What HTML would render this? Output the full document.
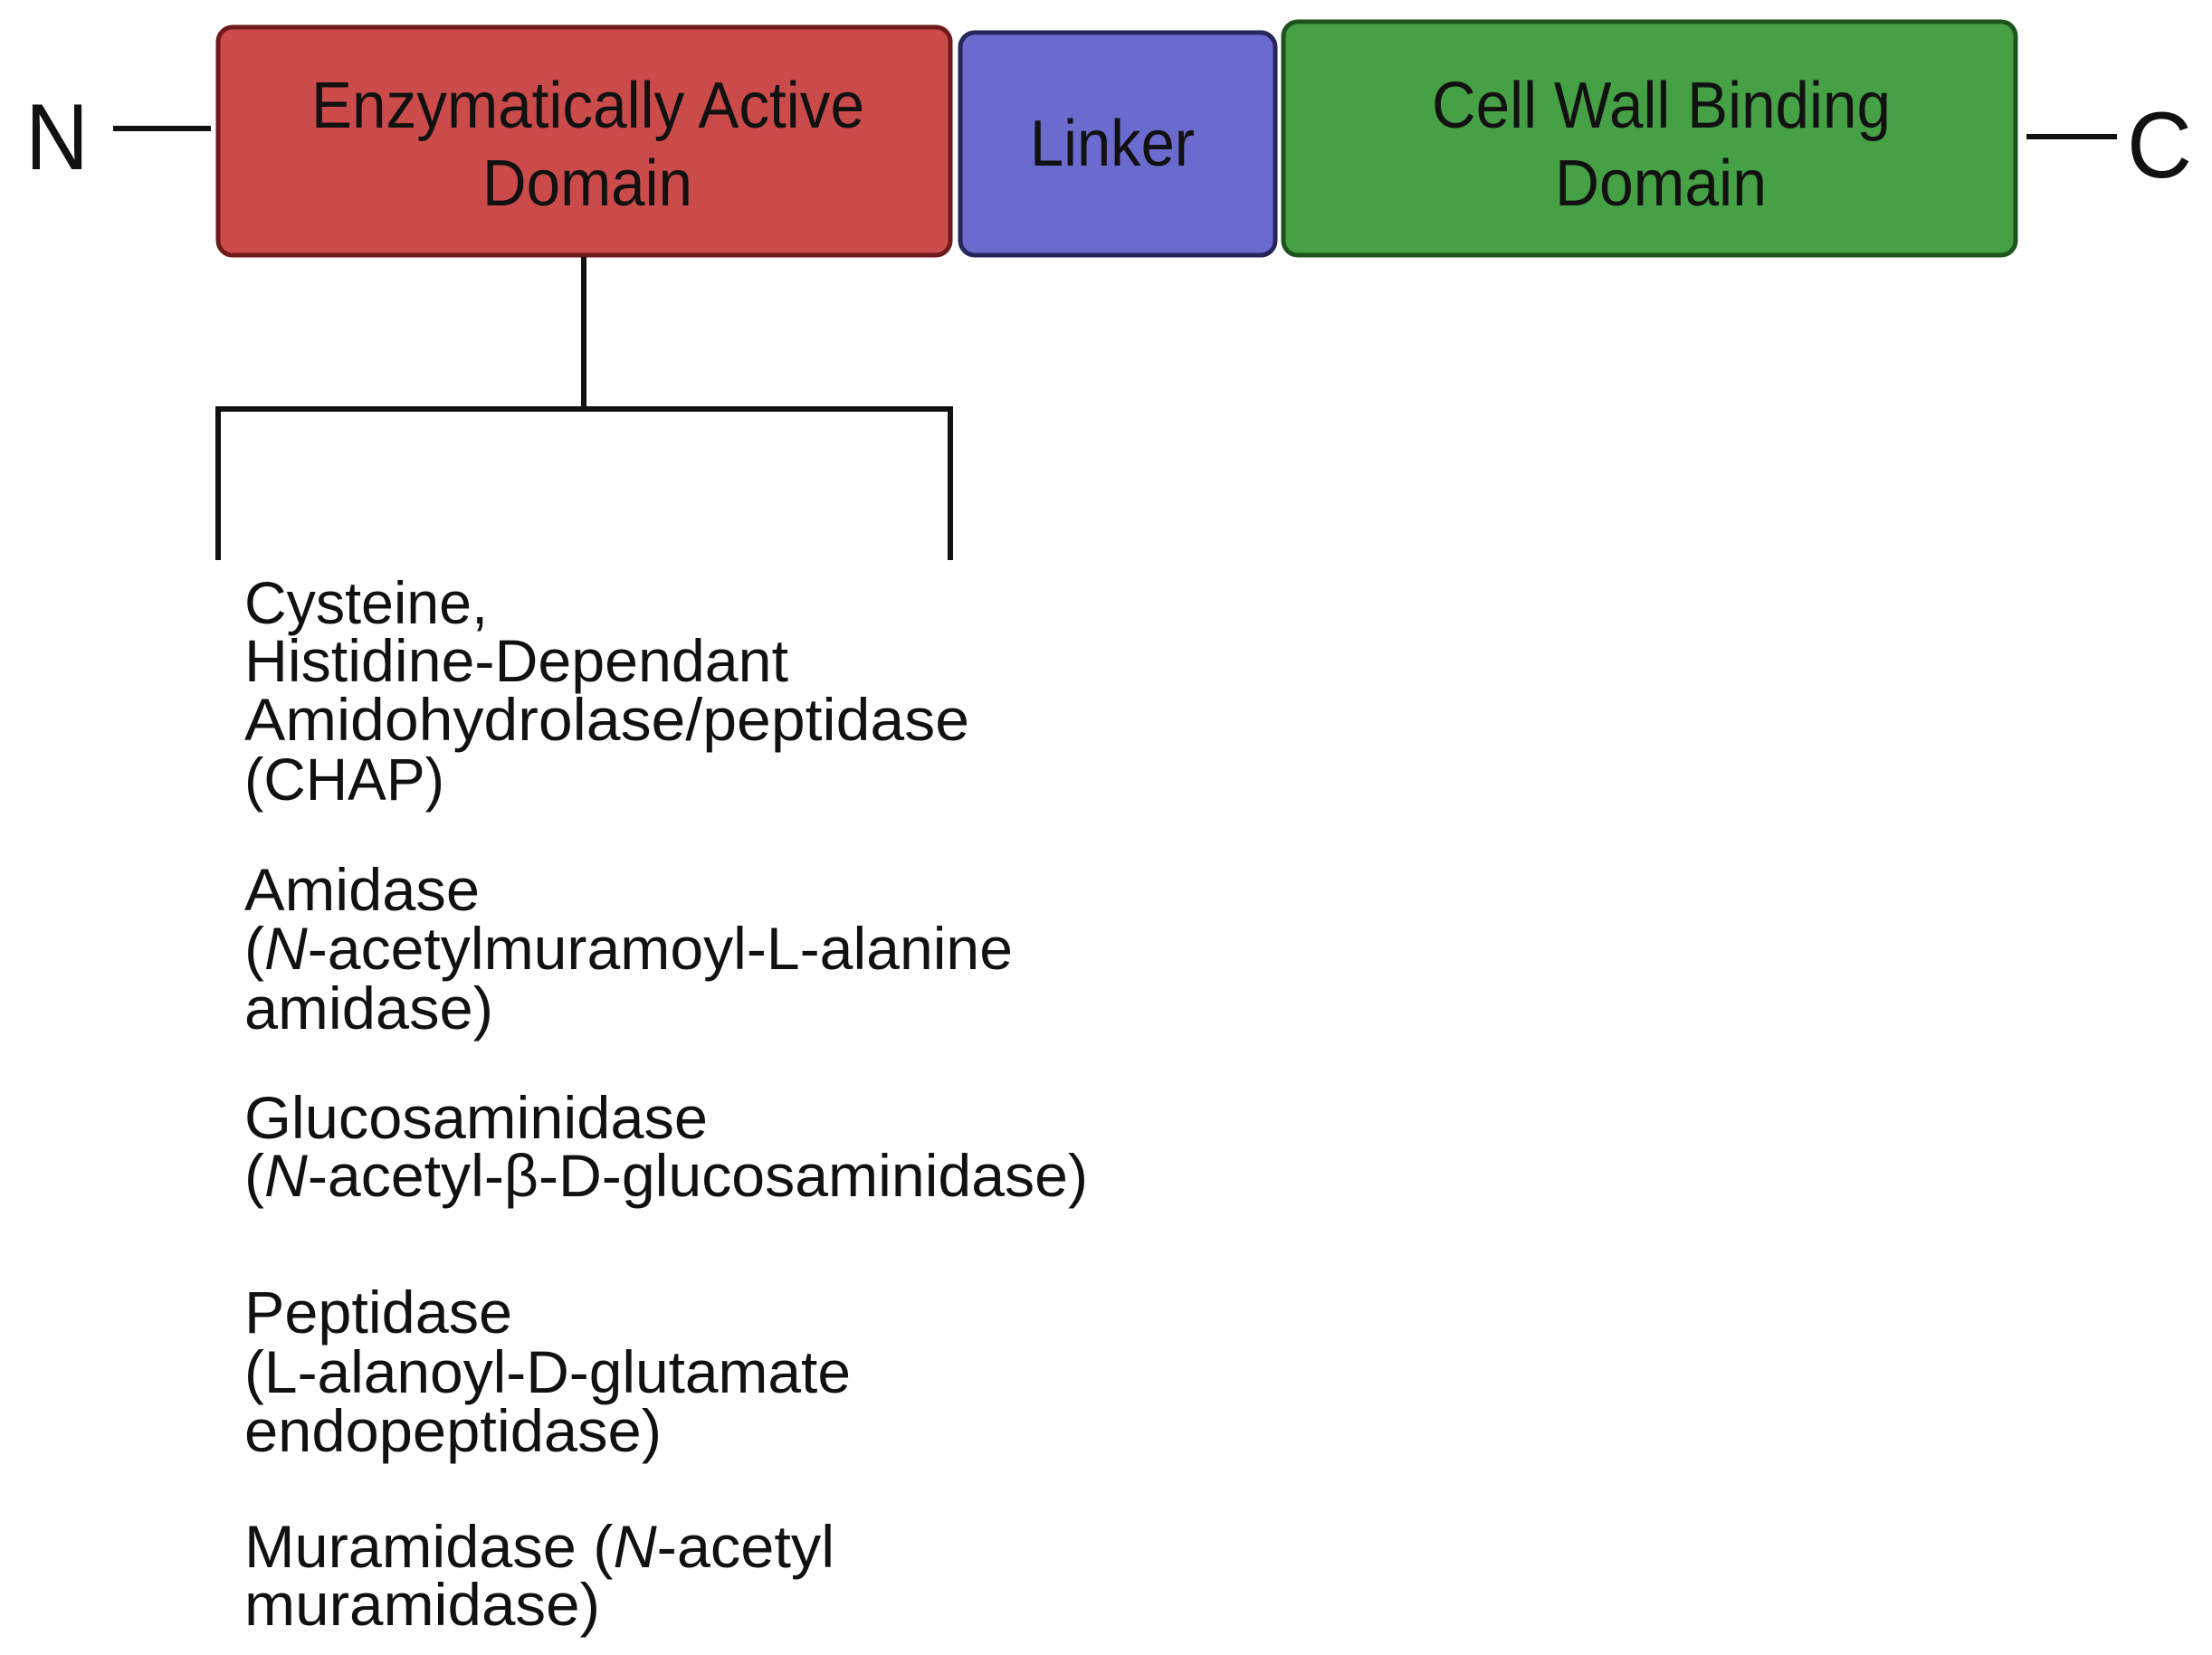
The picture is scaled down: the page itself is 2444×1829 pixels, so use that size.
<!DOCTYPE html>
<html><head><meta charset="utf-8"><style>html,body{margin:0;padding:0;background:#fff}svg{display:block}</style></head>
<body>
<svg width="2444" height="1829" viewBox="0 0 2444 1829" xmlns="http://www.w3.org/2000/svg">
<rect x="241" y="30" width="809" height="252" rx="16" fill="#cb4b4b" stroke="#6e1a1a" stroke-width="5"/>
<rect x="1061" y="36" width="348" height="246" rx="16" fill="#6b6bcf" stroke="#26265c" stroke-width="5"/>
<rect x="1418" y="24" width="809" height="258" rx="16" fill="#46a046" stroke="#1c541c" stroke-width="5"/>
<g font-family="Liberation Sans, sans-serif" font-size="72" fill="#111">
<text x="344" y="141" textLength="611" lengthAdjust="spacingAndGlyphs">Enzymatically Active</text>
<text x="533" y="227" textLength="232" lengthAdjust="spacingAndGlyphs">Domain</text>
<text x="1138" y="183" textLength="182" lengthAdjust="spacingAndGlyphs">Linker</text>
<text x="1582" y="141" textLength="507" lengthAdjust="spacingAndGlyphs">Cell Wall Binding</text>
<text x="1718" y="227" textLength="234" lengthAdjust="spacingAndGlyphs">Domain</text>
<text x="28" y="187" font-size="104" textLength="70" lengthAdjust="spacingAndGlyphs">N</text>
<text x="2350" y="196" font-size="104" textLength="72" lengthAdjust="spacingAndGlyphs">C</text>
</g>
<g stroke="#111" stroke-width="6" fill="none">
<line x1="125" y1="142" x2="233" y2="142"/>
<line x1="2239" y1="151" x2="2339" y2="151"/>
<line x1="645" y1="284" x2="645" y2="452"/>
<polyline points="241,619 241,452 1050,452 1050,619"/>
</g>
<g font-family="Liberation Sans, sans-serif" font-size="66" fill="#111">
<text x="270" y="689" textLength="269" lengthAdjust="spacingAndGlyphs">Cysteine,</text>
<text x="270" y="753" textLength="601" lengthAdjust="spacingAndGlyphs">Histidine-Dependant</text>
<text x="270" y="818" textLength="801" lengthAdjust="spacingAndGlyphs">Amidohydrolase/peptidase</text>
<text x="270" y="884" textLength="221" lengthAdjust="spacingAndGlyphs">(CHAP)</text>
<text x="270" y="1006" textLength="260" lengthAdjust="spacingAndGlyphs">Amidase</text>
<text x="270" y="1071" textLength="849" lengthAdjust="spacingAndGlyphs">(<tspan font-style="italic">N</tspan>-acetylmuramoyl-L-alanine</text>
<text x="270" y="1137" textLength="275" lengthAdjust="spacingAndGlyphs">amidase)</text>
<text x="270" y="1258" textLength="512" lengthAdjust="spacingAndGlyphs">Glucosaminidase</text>
<text x="270" y="1322" textLength="932" lengthAdjust="spacingAndGlyphs">(<tspan font-style="italic">N</tspan>-acetyl-β-D-glucosaminidase)</text>
<text x="270" y="1473" textLength="296" lengthAdjust="spacingAndGlyphs">Peptidase</text>
<text x="270" y="1539" textLength="670" lengthAdjust="spacingAndGlyphs">(L-alanoyl-D-glutamate</text>
<text x="270" y="1604" textLength="461" lengthAdjust="spacingAndGlyphs">endopeptidase)</text>
<text x="270" y="1732" textLength="652" lengthAdjust="spacingAndGlyphs">Muramidase (<tspan font-style="italic">N</tspan>-acetyl</text>
<text x="270" y="1796" textLength="393" lengthAdjust="spacingAndGlyphs">muramidase)</text>
</g>
</svg>
</body></html>
